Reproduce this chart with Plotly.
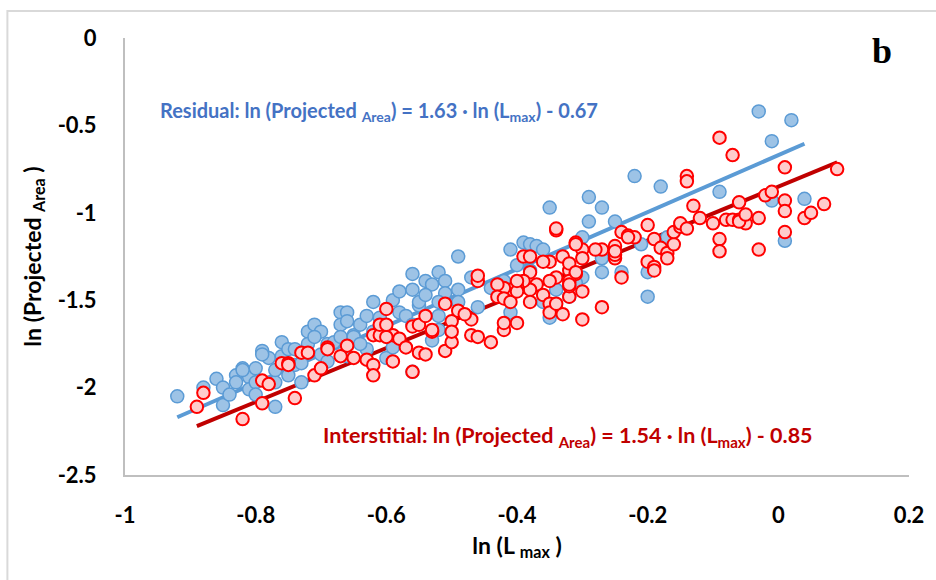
import plotly.graph_objects as go

# ---------------- data ----------------
res_x = [-0.92, -0.88, -0.86, -0.85, -0.85, -0.84, -0.83, -0.82, -0.83, -0.81,
         -0.81, -0.80, -0.80, -0.80, -0.79, -0.78, -0.77, -0.77, -0.76, -0.76,
         -0.75, -0.74, -0.75, -0.73, -0.73, -0.74, -0.72, -0.71, -0.70, -0.72,
         -0.71, -0.69, -0.70, -0.69, -0.68, -0.67, -0.66, -0.67, -0.66, -0.67,
         -0.65, -0.65, -0.64, -0.63, -0.62, -0.63, -0.64, -0.66, -0.62, -0.61,
         -0.60, -0.59, -0.58, -0.58, -0.56, -0.56, -0.55, -0.54, -0.53, -0.52,
         -0.51, -0.51, -0.49, -0.49, -0.47, -0.60, -0.59, -0.53, -0.52, -0.52,
         -0.56, -0.57, -0.56, -0.43, -0.03, 0.02, -0.01, -0.22, -0.18, -0.09,
         0.04, -0.01, 0.01, -0.29, -0.27, -0.35, -0.29, -0.25, -0.30, -0.21,
         -0.17, -0.41, -0.39, -0.38, -0.37, -0.36, -0.27, -0.24, -0.20, -0.20,
         -0.30, -0.27, -0.36, -0.41, -0.35, -0.49, -0.52, -0.46, -0.42, -0.40,
         -0.38, -0.34, -0.31, -0.32, -0.79, -0.77, -0.82, -0.61, -0.55, -0.54,
         -0.44]
res_y = [-2.05, -2.00, -1.95, -2.00, -2.10, -2.04, -1.93, -1.89, -1.97, -1.94,
         -2.01, -1.89, -1.97, -2.04, -1.79, -1.83, -1.97, -2.11, -1.74, -1.82,
         -1.78, -1.87, -1.93, -1.97, -1.86, -1.78, -1.68, -1.64, -1.68, -1.75,
         -1.71, -1.75, -1.81, -1.85, -1.74, -1.57, -1.57, -1.64, -1.62, -1.71,
         -1.70, -1.71, -1.64, -1.59, -1.51, -1.78, -1.75, -1.82, -1.68, -1.65,
         -1.68, -1.50, -1.57, -1.45, -1.44, -1.35, -1.53, -1.39, -1.41, -1.34,
         -1.39, -1.46, -1.44, -1.25, -1.37, -1.83, -1.77, -1.73, -1.67, -1.59,
         -1.91, -1.59, -1.64, -1.44, -0.42, -0.47, -0.59, -0.79, -0.85, -0.88,
         -0.92, -0.93, -1.16, -0.91, -0.97, -0.97, -1.05, -1.05, -1.14, -1.18,
         -1.14, -1.21, -1.17, -1.18, -1.19, -1.21, -1.34, -1.34, -1.34, -1.48,
         -1.37, -1.26, -1.51, -1.57, -1.60, -1.51, -1.51, -1.54, -1.39, -1.30,
         -1.33, -1.44, -1.40, -1.48, -1.81, -1.90, -1.90, -1.60, -1.51, -1.47,
         -1.43]

int_x = [-0.89, -0.88, -0.82, -0.79, -0.78, -0.79, -0.74, -0.76, -0.75, -0.73,
         -0.71, -0.70, -0.69, -0.67, -0.66, -0.65, -0.63, -0.62, -0.62, -0.62,
         -0.61, -0.61, -0.60, -0.59, -0.59, -0.58, -0.57, -0.56, -0.56, -0.55,
         -0.54, -0.53, -0.55, -0.51, -0.50, -0.51, -0.50, -0.50, -0.49, -0.47,
         -0.47, -0.46, -0.44, -0.46, -0.46, -0.48, -0.07, 0.01, 0.09, -0.14,
         -0.14, -0.13, -0.12, -0.10, -0.09, -0.09, -0.08, -0.07, -0.06, -0.05,
         -0.06, -0.06, -0.05, -0.03, -0.03, -0.02, -0.01, 0.01, 0.01, 0.01,
         0.04, 0.05, 0.07, -0.20, -0.19, -0.18, -0.17, -0.17, -0.16, -0.16,
         -0.15, -0.20, -0.19, -0.19, -0.24, -0.25, -0.25, -0.25, -0.24, -0.23,
         -0.22, -0.27, -0.28, -0.30, -0.31, -0.30, -0.27, -0.30, -0.34, -0.34,
         -0.39, -0.38, -0.38, -0.35, -0.33, -0.31, -0.32, -0.32, -0.31, -0.32,
         -0.34, -0.35, -0.37, -0.38, -0.39, -0.40, -0.41, -0.42, -0.43, -0.43,
         -0.42, -0.41, -0.36, -0.35, -0.33, -0.35, -0.32, -0.30, -0.32, -0.42,
         -0.40, -0.42, -0.09, -0.15, -0.14, -0.23, -0.25, -0.36, -0.31, -0.32,
         -0.34, -0.38, -0.40, -0.40, -0.60, -0.60, -0.69, -0.72, -0.75, -0.54,
         -0.53]
int_y = [-2.11, -2.03, -2.18, -1.96, -1.98, -2.09, -2.06, -1.86, -1.86, -1.80,
         -1.93, -1.89, -1.77, -1.82, -1.76, -1.83, -1.84, -1.87, -1.93, -1.70,
         -1.70, -1.64, -1.55, -1.70, -1.85, -1.72, -1.77, -1.65, -1.91, -1.64,
         -1.59, -1.68, -1.80, -1.52, -1.62, -1.79, -1.74, -1.68, -1.56, -1.61,
         -1.70, -1.71, -1.74, -1.39, -1.36, -1.58, -0.67, -0.74, -0.75, -0.79,
         -0.82, -0.96, -1.03, -1.06, -1.15, -1.22, -1.04, -1.04, -1.04, -1.06,
         -1.05, -0.94, -1.01, -1.21, -1.03, -0.90, -0.88, -0.93, -0.99, -1.11,
         -1.03, -1.00, -0.95, -1.07, -1.15, -1.20, -1.23, -1.26, -1.18, -1.11,
         -1.08, -1.28, -1.31, -1.33, -1.37, -1.26, -1.24, -1.19, -1.11, -1.13,
         -1.14, -1.21, -1.21, -1.21, -1.17, -1.26, -1.54, -1.61, -1.10, -1.09,
         -1.25, -1.25, -1.34, -1.28, -1.25, -1.18, -1.33, -1.29, -1.35, -1.39,
         -1.37, -1.39, -1.41, -1.44, -1.39, -1.42, -1.44, -1.43, -1.41, -1.48,
         -1.49, -1.51, -1.47, -1.52, -1.58, -1.57, -1.48, -1.45, -1.42, -1.67,
         -1.63, -1.63, -0.57, -1.06, -1.09, -1.14, -1.22, -1.28, -1.34, -1.41,
         -1.52, -1.51, -1.45, -1.39, -1.71, -1.64, -1.78, -1.80, -1.87, -1.81,
         -1.67]

res_slope, res_icpt = 1.63, -0.67
int_slope, int_icpt = 1.54, -0.85

x_ticks = [-1, -0.8, -0.6, -0.4, -0.2, 0, 0.2]
x_tick_labels = ["-1", "-0.8", "-0.6", "-0.4", "-0.2", "0", "0.2"]
y_ticks = [0, -0.5, -1, -1.5, -2, -2.5]
y_tick_labels = ["0", "-0.5", "-1", "-1.5", "-2", "-2.5"]

# ---------------- figure ----------------
FONT = "Lato"
fig = go.Figure()

rx = [min(res_x), max(res_x)]
ix = [min(int_x), max(int_x)]
fig.add_trace(go.Scatter(x=rx, y=[res_slope * v + res_icpt for v in rx], mode="lines",
                         line=dict(color="#5B9BD5", width=4), showlegend=False, hoverinfo="skip"))
fig.add_trace(go.Scatter(x=ix, y=[int_slope * v + int_icpt for v in ix], mode="lines",
                         line=dict(color="#C00000", width=4), showlegend=False, hoverinfo="skip"))
fig.add_trace(go.Scatter(x=res_x, y=res_y, mode="markers", name="Residual",
                         marker=dict(size=13, color="#9DC3E6",
                                     line=dict(color="#5B9BD5", width=1.5)),
                         showlegend=False))
fig.add_trace(go.Scatter(x=int_x, y=int_y, mode="markers", name="Interstitial",
                         marker=dict(size=12.5, color="#FFCCCC",
                                     line=dict(color="#FF0000", width=2)),
                         showlegend=False))

fig.update_layout(
    width=936, height=580,
    margin=dict(l=125, r=23, t=38, b=105),
    paper_bgcolor="white", plot_bgcolor="white",
    font=dict(family=FONT, color="black"),
    xaxis=dict(range=[-1, 0.2], tickvals=x_ticks, ticktext=x_tick_labels,
               showgrid=False, zeroline=False, showline=True, linecolor="#BFBFBF",
               linewidth=2, ticks="", ticklabelstandoff=20,
               tickfont=dict(family=FONT, size=22, color="black", weight="bold"),
               title=dict(text="ln (L <sub>max</sub> )", standoff=10,
                          font=dict(family=FONT, size=23, color="black", weight="bold"))),
    yaxis=dict(range=[-2.5, 0], tickvals=y_ticks, ticktext=y_tick_labels,
               showgrid=False, zeroline=False, showline=True, linecolor="#BFBFBF",
               linewidth=2, ticks="", ticklabelstandoff=22,
               tickfont=dict(family=FONT, size=22, color="black", weight="bold"),
               title=dict(text="ln (Projected <sub>Area</sub> )", standoff=10,
                          font=dict(family=FONT, size=23, color="black", weight="bold"))),
    annotations=[
        dict(x=-0.950, y=-0.42, xref="x", yref="y", xanchor="left", yanchor="middle",
             showarrow=False,
             text="Residual: ln (Projected <sub>Area</sub>) = 1.63 · ln (L<sub>max</sub>) - 0.67",
             font=dict(family=FONT, size=20, color="#4472C4", weight="bold")),
        dict(x=-0.70, y=-2.28, xref="x", yref="y", xanchor="left", yanchor="middle",
             showarrow=False,
             text="Interstitial: ln (Projected <sub>Area</sub>) = 1.54 · ln (L<sub>max</sub>) - 0.85",
             font=dict(family=FONT, size=21.5, color="#C00000", weight="bold")),
        dict(x=0.966, y=0.97, xref="paper", yref="paper", xanchor="center", yanchor="middle",
             showarrow=False, text="b",
             font=dict(family="Liberation Serif", size=36, color="black", weight="bold")),
    ],
    shapes=[
        dict(type="rect", xref="paper", yref="paper", x0=-0.150, x1=1.2, y0=-0.4, y1=1.062,
             line=dict(color="#D9D9D9", width=2), fillcolor="rgba(0,0,0,0)", layer="below"),
    ],
)

fig.write_html("out.html")
